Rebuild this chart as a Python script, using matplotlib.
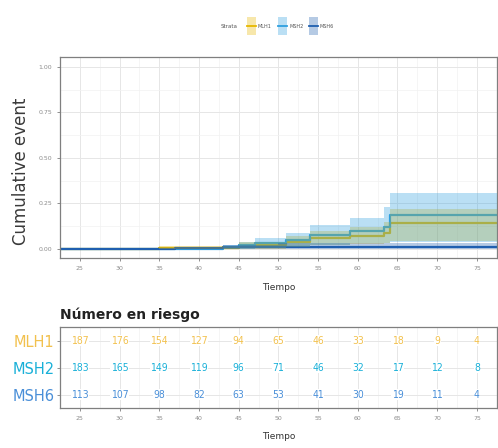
import matplotlib
matplotlib.use("Agg")
import matplotlib.pyplot as plt
import numpy as np
from matplotlib.patches import Rectangle

# ---- data ----
strata = ["MLH1", "MSH2", "MSH6"]
colors = ["#E7B800", "#2E9FDF", "#1F5FAF"]
label_colors = ["#F2C14E", "#19B0D8", "#4A8FD8"]

t_mlh1 = [22.5, 35, 45, 51, 54, 59, 63.3, 64.1]
est_mlh1 = [0.0, 0.005, 0.02, 0.04, 0.06, 0.07, 0.09, 0.14]
up_mlh1 = [0.0, 0.015, 0.04, 0.07, 0.10, 0.12, 0.15, 0.22]
lo_mlh1 = [0.0, 0.0, 0.0, 0.01, 0.02, 0.025, 0.03, 0.045]

t_msh2 = [22.5, 43, 45, 47, 51, 54, 59, 63.3, 64.1]
est_msh2 = [0.0, 0.01, 0.02, 0.03, 0.05, 0.077, 0.10, 0.12, 0.187]
up_msh2 = [0.0, 0.02, 0.04, 0.06, 0.09, 0.13, 0.17, 0.23, 0.31]
lo_msh2 = [0.0, 0.0, 0.0, 0.005, 0.01, 0.02, 0.03, 0.035, 0.04]

t_msh6 = [22.5, 37, 43, 50]
est_msh6 = [0.0, 0.003, 0.008, 0.013]
up_msh6 = [0.0, 0.01, 0.02, 0.03]
lo_msh6 = [0.0, 0.0, 0.0, 0.0]

t_end = 77.5

risk_times = [25, 30, 35, 40, 45, 50, 55, 60, 65, 70, 75]
risk_mlh1 = [187, 176, 154, 127, 94, 65, 46, 33, 18, 9, 4]
risk_msh2 = [183, 165, 149, 119, 96, 71, 46, 32, 17, 12, 8]
risk_msh6 = [113, 107, 98, 82, 63, 53, 41, 30, 19, 11, 4]

yticks = [0.0, 0.25, 0.5, 0.75, 1.0]
ytick_labels = ["0.00", "0.25", "0.50", "0.75", "1.00"]

# ---- figure ----
W, H = 498, 448
fig = plt.figure(figsize=(W / 100, H / 100), dpi=100)
ax = fig.add_axes([0.1205, 0.424, 0.877, 0.449])
axr = fig.add_axes([0.1205, 0.089, 0.877, 0.181])

grid_major = "#E6E6E6"
grid_minor = "#F2F2F2"

def setup(a):
    a.set_facecolor("white")
    for s in a.spines.values():
        s.set_color("#7F7F7F")
        s.set_linewidth(0.9)
    a.tick_params(colors="#7F7F7F", labelcolor="#8C8C8C", labelsize=4.5,
                  length=2, width=0.6)

series = [
    (t_mlh1, est_mlh1, up_mlh1, lo_mlh1),
    (t_msh2, est_msh2, up_msh2, lo_msh2),
    (t_msh6, est_msh6, up_msh6, lo_msh6),
]

setup(ax)
ax.set_xlim(22.6, 77.4)
ax.set_ylim(-0.05, 1.055)
ax.set_xticks(risk_times)
ax.set_xticklabels([str(v) for v in risk_times])
ax.set_xticks(np.arange(22.5, 78, 5), minor=True)
ax.set_yticks(yticks)
ax.set_yticklabels(ytick_labels)
ax.set_yticks([0.125, 0.375, 0.625, 0.875], minor=True)
ax.tick_params(which="minor", length=0)
ax.grid(True, which="major", color=grid_major, lw=0.7)
ax.grid(True, which="minor", color=grid_minor, lw=0.5)
ax.set_axisbelow(True)

for (t, e, u, l), c, name in zip(series, colors, strata):
    tt = list(t) + [t_end]
    ee = list(e) + [e[-1]]
    uu = list(u) + [u[-1]]
    ll = list(l) + [l[-1]]
    ax.step(tt, ee, where="post", color=c, lw=1.6, zorder=2)
    ax.fill_between(tt, ll, uu, step="post", color=c, alpha=0.33, lw=0, zorder=3)

ax.set_xlabel("Tiempo", fontsize=6.5, color="#333333", labelpad=9)
ax.set_ylabel("Cumulative event", fontsize=12, color="#3A3A3A")
ax.yaxis.set_label_coords(-0.069, 0.43)

# legend (drawn in a small overlay axes in pixel units)
lax = fig.add_axes([215 / W, 1 - 38 / H, 130 / W, 24 / H])
lax.set_xlim(215, 345)
lax.set_ylim(38, 14)
lax.axis("off")
lax.text(238, 26, "Strata", fontsize=4, color="#555555", ha="right", va="center")
sw_x = [247, 278, 309]
for x0, c, name in zip(sw_x, colors, strata):
    lax.add_patch(Rectangle((x0, 17), 9, 18, facecolor=c, alpha=0.33, lw=0))
    lax.plot([x0, x0 + 9], [26, 26], color=c, lw=1.3)
    lax.text(x0 + 11, 26, name, fontsize=3.5, color="#555555", ha="left", va="center")

# risk table
setup(axr)
axr.set_xlim(22.6, 77.4)
axr.set_ylim(0.5, 3.5)
axr.set_xticks(risk_times)
axr.set_xticklabels([str(v) for v in risk_times])
axr.set_xticks(np.arange(22.5, 78, 5), minor=True)
axr.set_yticks([3, 2, 1])
axr.set_yticklabels(strata)
axr.tick_params(axis="y", labelsize=10.5, pad=2)
for lbl, c in zip(axr.get_yticklabels(), label_colors):
    lbl.set_color(c)
axr.tick_params(which="minor", length=0)
axr.grid(True, which="major", color=grid_major, lw=0.7)
axr.grid(True, which="minor", axis="x", color=grid_minor, lw=0.5)
axr.set_axisbelow(True)
for row, vals, c in zip([3, 2, 1], [risk_mlh1, risk_msh2, risk_msh6], label_colors):
    for x, v in zip(risk_times, vals):
        axr.text(x, row, str(v), ha="center", va="center", fontsize=7.5,
                 color=c, family="DejaVu Sans", fontstretch="condensed",
                 bbox=dict(facecolor="white", edgecolor="none", pad=0.3))
axr.set_xlabel("Tiempo", fontsize=6.5, color="#333333", labelpad=8)
axr.set_title("Número en riesgo", loc="left", fontsize=10, fontweight="bold",
              color="#222222", pad=6)

fig.savefig("out.png", dpi=100)
